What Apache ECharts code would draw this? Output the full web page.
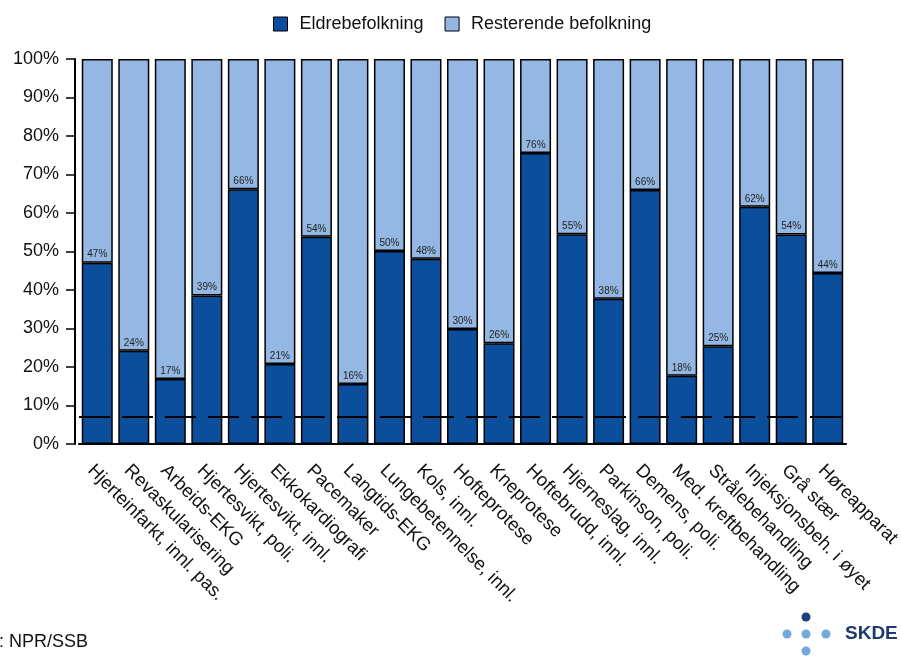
<!DOCTYPE html>
<html>
<head>
<meta charset="utf-8">
<script src="https://cdn.jsdelivr.net/npm/echarts@6/dist/echarts.min.js"></script>
<style>
  html, body { margin: 0; padding: 0; background: #fff; }
  #chart { width: 901px; height: 657px; }
</style>
</head>
<body>
<div id="chart"></div>
<script>
// kategorier (tjenester)
var categories = [
  'Hjerteinfarkt, innl. pas.', 'Revaskularisering', 'Arbeids-EKG', 'Hjertesvikt, poli.',
  'Hjertesvikt, innl.', 'Ekkokardiografi', 'Pacemaker', 'Langtids-EKG',
  'Lungebetennelse, innl.', 'Kols, innl.', 'Hofteprotese', 'Kneprotese',
  'Hoftebrudd, innl.', 'Hjerneslag, innl.', 'Parkinson, poli.', 'Demens, poli.',
  'Med. kreftbehandling', 'Strålebehandling', 'Injeksjonsbeh. i øyet', 'Grå stær', 'Høreapparat'
];
// andel eldrebefolkning (%)
var eldre = [47.1, 24.2, 16.9, 38.6, 66.2, 20.8, 53.8, 15.6, 50.1, 48.1, 29.9, 26.2,
  75.6, 54.5, 37.7, 66.0, 17.7, 25.4, 61.6, 54.4, 44.4];
// resterende befolkning = 100 - eldre
var resterende = eldre.map(function (v) { return +(100 - v).toFixed(1); });
// stiplet referanselinje (%)
var refLinje = 7;

var mørk = '#0b4f9c';
var lys = '#94b8e3';
var font = 'Liberation Sans';

var chart = echarts.init(document.getElementById('chart'));
chart.setOption({
  animation: false,
  textStyle: { fontFamily: font },
  legend: {
    top: 10,
    left: 268,
    icon: 'rect',
    itemWidth: 14,
    itemHeight: 14,
    itemGap: 21,
    textStyle: { fontSize: 18, color: '#111', fontFamily: font, padding: [0, 0, 0, 7] },
    data: [
      { name: 'Eldrebefolkning', itemStyle: { color: mørk, borderColor: '#000', borderWidth: 1 } },
      { name: 'Resterende befolkning', itemStyle: { color: lys, borderColor: '#000', borderWidth: 1 } }
    ]
  },
  grid: { left: 79, right: 55, top: 59, bottom: 213, outerBoundsMode: 'none', containLabel: false },
  xAxis: {
    type: 'category',
    data: categories,
    axisLine: { lineStyle: { color: '#000', width: 2 } },
    axisTick: { alignWithLabel: true, length: 8, lineStyle: { color: '#000', width: 1.5 } },
    axisLabel: {
      rotate: -45, fontSize: 18.5, color: '#111', margin: 17, interval: 0,
      verticalAlign: 'top', fontFamily: font
    }
  },
  yAxis: {
    type: 'value',
    min: 0,
    max: 100,
    interval: 10,
    offset: 4,
    axisLine: { show: true, lineStyle: { color: '#000', width: 2 } },
    axisTick: { show: true, length: 9, lineStyle: { color: '#000', width: 1.5 } },
    axisLabel: { formatter: '{value}%', fontSize: 18, color: '#111', margin: 16, fontFamily: font },
    splitLine: { show: false }
  },
  series: [
    {
      name: 'Eldrebefolkning',
      type: 'bar',
      stack: 'tot',
      barWidth: 31,
      data: eldre,
      itemStyle: { color: mørk, borderColor: '#000', borderWidth: 1.5 },
      label: {
        show: true,
        position: 'top',
        distance: 3,
        fontSize: 10,
        color: '#222',
        formatter: function (p) { return Math.round(p.value) + '%'; }
      },
      markLine: {
        silent: true,
        symbol: 'none',
        label: { show: false },
        lineStyle: { color: '#000', width: 2, type: [31, 12] },
        data: [{ yAxis: refLinje }]
      },
      z: 3
    },
    {
      name: 'Resterende befolkning',
      type: 'bar',
      stack: 'tot',
      barWidth: 31,
      data: resterende,
      itemStyle: { color: lys, borderColor: '#000', borderWidth: 1.5 },
      z: 2
    }
  ],
  graphic: [
    { type: 'text', x: -41, y: 633, style: { text: 'Kilde: NPR/SSB', fontSize: 18, fill: '#111', fontFamily: font } },
    { type: 'circle', shape: { cx: 806, cy: 617, r: 4.5 }, style: { fill: '#1d3f7c' } },
    { type: 'circle', shape: { cx: 787, cy: 634, r: 4.5 }, style: { fill: '#72a9dd' } },
    { type: 'circle', shape: { cx: 806, cy: 634, r: 4.5 }, style: { fill: '#72a9dd' } },
    { type: 'circle', shape: { cx: 826, cy: 634, r: 4.5 }, style: { fill: '#72a9dd' } },
    { type: 'circle', shape: { cx: 806, cy: 651, r: 4.5 }, style: { fill: '#72a9dd' } },
    { type: 'text', x: 845, y: 624, style: { text: 'SKDE', fontSize: 19, fontWeight: 'bold', fill: '#1f3a70', fontFamily: font } }
  ]
});
</script>
</body>
</html>
